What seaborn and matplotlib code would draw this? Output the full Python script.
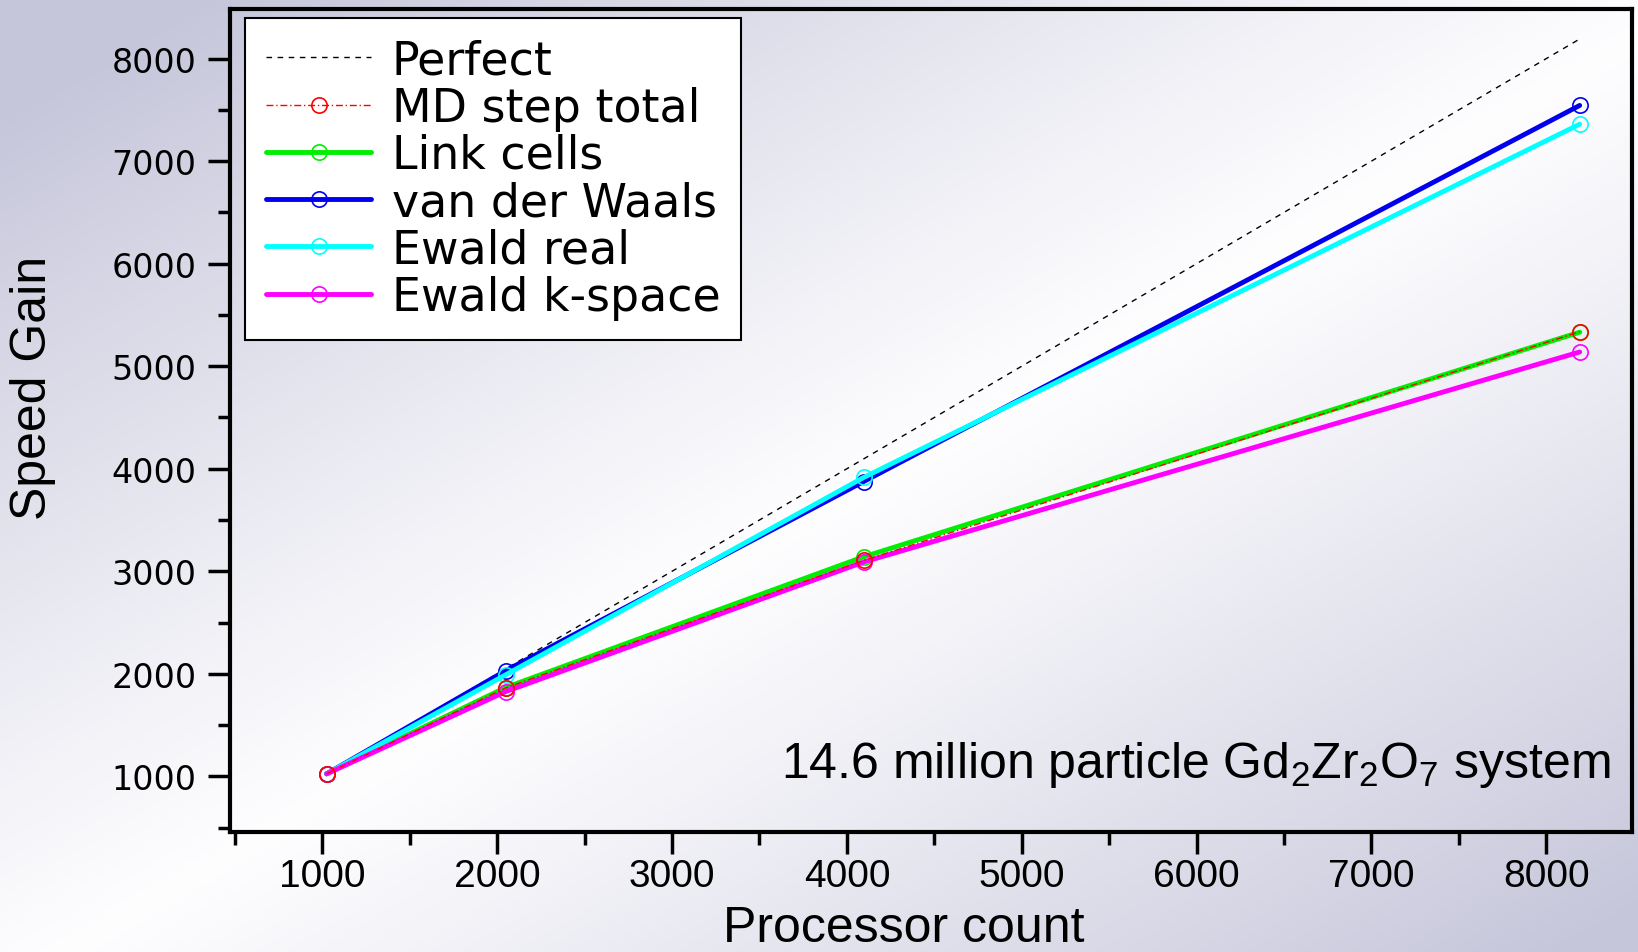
import numpy as np
import pandas as pd
import matplotlib
matplotlib.use("Agg")
import matplotlib.pyplot as plt
import seaborn as sns

# Processor counts and speed gains per timing component
processors = [1024, 2048, 4096, 8192]
perfect = [1024, 2048, 4096, 8192]
md_step_total = [1024, 1862, 3105, 5336]
link_cells = [1024, 1866, 3141, 5332]
van_der_waals = [1024, 2030, 3875, 7544]
ewald_real = [1024, 1990, 3915, 7361]
ewald_kspace = [1024, 1826, 3090, 5139]

x_ticks = [1000, 2000, 3000, 4000, 5000, 6000, 7000, 8000]
y_ticks = [1000, 2000, 3000, 4000, 5000, 6000, 7000, 8000]

sns.set_theme(style="white")
plt.rcParams["font.family"] = ["Liberation Sans", "DejaVu Sans"]
plt.rcParams["text.color"] = "black"
plt.rcParams["axes.labelcolor"] = "black"
plt.rcParams["xtick.color"] = "black"
plt.rcParams["ytick.color"] = "black"
plt.rcParams["mathtext.fontset"] = "custom"
plt.rcParams["mathtext.rm"] = "Liberation Sans"
plt.rcParams["mathtext.it"] = "Liberation Sans"
plt.rcParams["mathtext.default"] = "regular"

W, H = 1638, 953
fig = plt.figure(figsize=(W / 100, H / 100), dpi=100)

# Diagonal lavender-to-white backdrop
bg_ax = fig.add_axes([0, 0, 1, 1], zorder=-10)
yy, xx = np.mgrid[0:1:200j, 0:1:300j]
t = (xx + yy) / 2.0
shade = np.clip(np.abs(t - 0.52) * 2.2, 0, 1) ** 1.1
c_light = np.array([0.995, 0.995, 1.0])
c_dark = np.array([0.78, 0.78, 0.86])
img = c_light[None, None, :] * (1 - shade[..., None]) + c_dark[None, None, :] * shade[..., None]
bg_ax.imshow(img, aspect="auto", extent=[0, 1, 0, 1], origin="upper")
bg_ax.axis("off")

ax = fig.add_axes([0.1403, 0.1263, 0.8559, 0.8627])
ax.set_facecolor("none")

series = [
    ("Perfect", perfect, "black", 1.0, (4, 4), None, 2),
    ("MD step total", md_step_total, "red", 1.0, (5, 2, 1, 2), "red", 9),
    ("Link cells", link_cells, "#00ee00", 3.5, None, "#00ee00", 3),
    ("van der Waals", van_der_waals, "#0000ee", 3.5, None, "#0000ee", 4),
    ("Ewald real", ewald_real, "#00ffff", 3.5, None, "#00ffff", 5),
    ("Ewald k-space", ewald_kspace, "#ff00ff", 3.5, None, "#ff00ff", 6),
]

for name, vals, col, lw, dashes, mcol, z in series:
    df = pd.DataFrame({"Processor count": processors, "Speed Gain": vals})
    sns.lineplot(data=df, x="Processor count", y="Speed Gain", ax=ax,
                 label=name, color=col, linewidth=lw,
                 marker="o" if mcol else None, markersize=11,
                 markerfacecolor="none", markeredgecolor=mcol if mcol else col,
                 markeredgewidth=1.2, zorder=z)
    if dashes is not None:
        ax.lines[-1].set_dashes(dashes)

ax.set_xlim(470, 8490)
ax.set_ylim(460, 8480)
ax.set_xticks(x_ticks)
ax.set_yticks(y_ticks)
ax.set_xticks(np.arange(500, 8500, 500), minor=True)
ax.set_yticks(np.arange(500, 8500, 500), minor=True)

for s in ax.spines.values():
    s.set_linewidth(3)
    s.set_color("black")

ax.tick_params(axis="both", which="major", direction="out", length=16, width=2.5,
               color="black", bottom=True, left=True)
ax.tick_params(axis="both", which="minor", direction="out", length=9, width=2.5,
               color="black", bottom=True, left=True)
ax.tick_params(axis="x", labelsize=28, pad=3)
ax.tick_params(axis="y", labelsize=24, pad=8)
for lab in ax.get_yticklabels():
    lab.set_family("DejaVu Sans")

ax.set_xlabel("Processor count", fontsize=36)
ax.set_ylabel("Speed Gain", fontsize=36)
ax.xaxis.set_label_coords(0.481, -0.089)
ax.yaxis.set_label_coords(-0.124, 0.541)

ax.text(0.985, 0.067, "14.6 million particle Gd$_2$Zr$_2$O$_7$ system",
        transform=ax.transAxes, ha="right", va="baseline", fontsize=36)

leg = ax.legend(loc="upper left", bbox_to_anchor=(0.011, 0.99), borderaxespad=0,
                fancybox=False, edgecolor="black", framealpha=1, facecolor="white",
                handlelength=2.3, handletextpad=0.45, labelspacing=0.05,
                borderpad=0.45, prop={"family": "DejaVu Sans", "size": 33})
leg.get_frame().set_linewidth(1.5)
for txt in leg.get_texts():
    txt.set_color("black")

fig.savefig("out.png", dpi=100)
